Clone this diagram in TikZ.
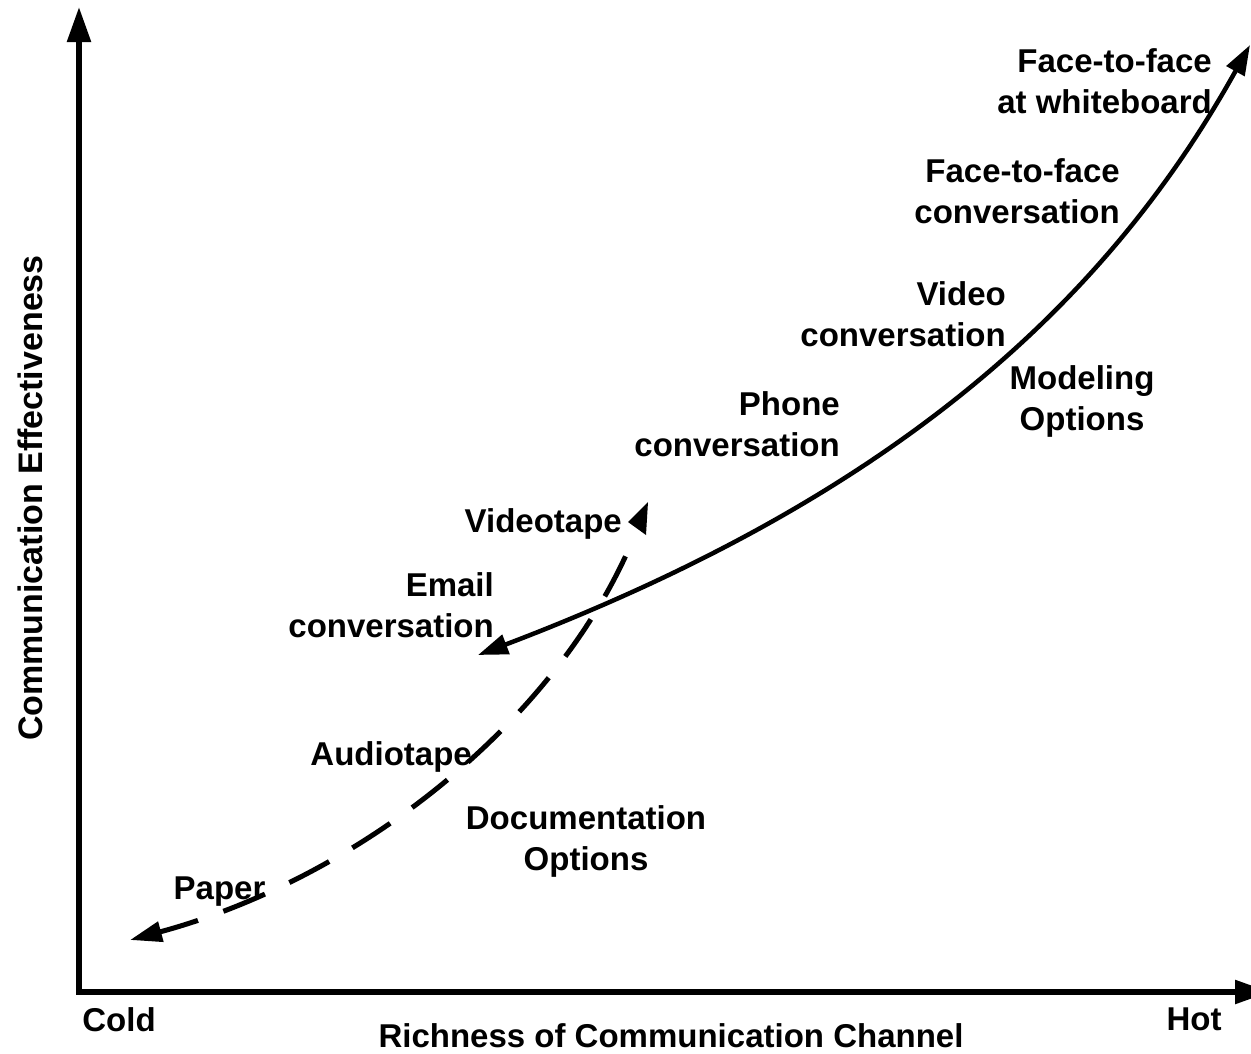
\documentclass[tikz,border=0pt]{standalone}
\usepackage{fontspec}
\setmainfont{Liberation Sans}
\usetikzlibrary{arrows.meta}
\newcommand{\lblfont}{\bfseries\fontsize{33}{41}\selectfont}
\newcommand{\axfont}{\bfseries\fontsize{34}{41}\selectfont}
\begin{document}
\begin{tikzpicture}[x=1pt,y=-1pt,
  lbl/.style={font=\lblfont, inner sep=0pt, align=center},
  lblr/.style={font=\lblfont, inner sep=0pt, align=right},
  axisline/.style={line width=5.5pt, line join=miter, {Triangle[length=35pt,width=23pt]}-{Triangle[length=35pt,width=23pt]}},
  solidcurve/.style={line width=4.5pt, {Triangle[length=30pt,width=20pt]}-{Triangle[length=30pt,width=20pt]}},
  dashcurve/.style={line width=5pt, dash pattern=on 45pt off 27pt, dash phase=5pt, {Triangle[length=32pt,width=20pt]}-},
]
\useasboundingbox (0,0) rectangle (1251,1053);
\fill[white] (0,0) rectangle (1251,1053);
% axes
\coordinate (ytip) at (79,7);
\coordinate (orig) at (79,992);
\coordinate (xtip) at (1270,992);
\draw[axisline] (ytip) -- (orig) -- (xtip);
% solid curve (modeling options)
\coordinate (s0) at (478,655);
\coordinate (s1) at (1250,45);
\draw[solidcurve] (s0) .. controls (878,503) and (1100,315) .. (s1);
% dashed curve (documentation options)
\coordinate (d0) at (130,940);
\coordinate (d1) at (636,532);
\draw[dashcurve] (d0) .. controls (363,877) and (562,717) .. (d1);
\fill (648,502) -- (646,535) -- (628,522) -- cycle;
% labels
\node[lblr, anchor=east] (fwb) at (1212,81) {Face-to-face\\at whiteboard};
\node[lblr, anchor=east] (ffc) at (1120,191) {Face-to-face\\conversation};
\node[lblr, anchor=east] (vid) at (1006,314) {Video\\conversation};
\node[lbl] (mod) at (1082,401) {Modeling\\Options};
\node[lblr, anchor=east] (pho) at (840,424) {Phone\\conversation};
\node[lblr, anchor=east] (vtp) at (622,524) {Videotape};
\node[lblr, anchor=east] (eml) at (494,605) {Email\\conversation};
\node[lblr, anchor=east] (aud) at (472,757) {Audiotape};
\node[lbl] (doc) at (586,841) {Documentation\\Options};
\node[lbl] (pap) at (219.5,892) {Paper};
\node[lbl] (cold) at (119,1020) {Cold};
\node[lbl] (hot) at (1194,1019) {Hot};
\node[lbl] (xlab) at (671,1036) {Richness of Communication Channel};
\node[font=\axfont, inner sep=0pt, rotate=90] (ylab) at (30,498) {Communication Effectiveness};
\end{tikzpicture}
\end{document}
